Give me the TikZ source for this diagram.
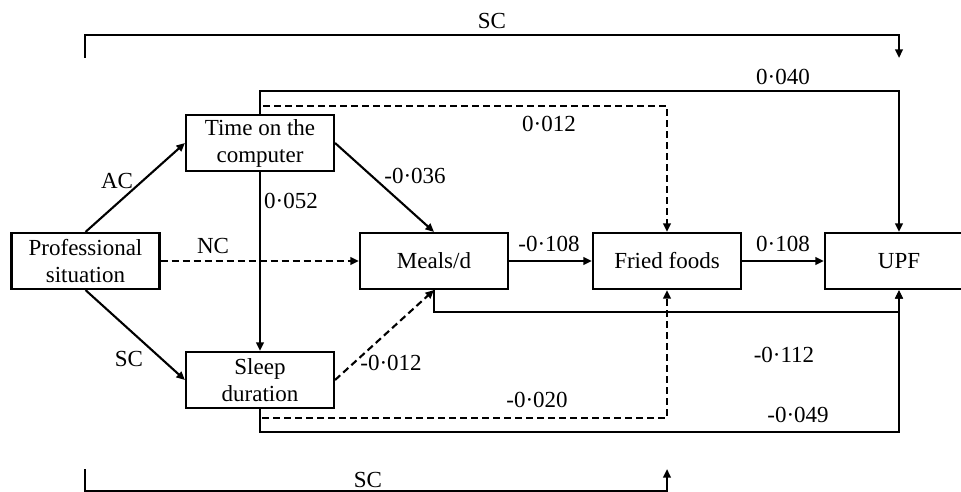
\documentclass[tikz,border=0pt]{standalone}
\usepackage{fontspec}
\setmainfont{Liberation Serif}
\usetikzlibrary{arrows.meta}
\begin{document}
\begin{tikzpicture}[x=1pt,y=-1pt,
  font=\fontsize{23}{27}\selectfont,
  box/.style={draw,line width=2.1pt,minimum width=148pt,minimum height=56pt,inner sep=0pt,align=center},
  conn/.style={line width=2.1pt,-{Triangle[length=8.5pt,width=7.5pt]}},
  dsh/.style={dash pattern=on 7pt off 4pt},
  lbl/.style={inner sep=0pt}]
\useasboundingbox (0,0) rectangle (961,492);
\clip (0,0) rectangle (961,492);
\fill[white] (0,0) rectangle (961,492);

\node[box] (prof) at (85.5,261) {Professional\\situation};
\node[box] (time) at (260,143) {Time on the\\computer};
\node[box] (sleep) at (260,380) {Sleep\\duration};
\node[box] (meals) at (434,261) {Meals/d};
\node[box] (fried) at (667,261) {Fried foods};
\node[box] (upf) at (899,261) {UPF};

% top SC bracket
\coordinate (scA) at (85,58);
\coordinate (scB) at (899,58);
\draw[conn] (scA) -- (85,35) -- (899,35) -- (scB);
\node[lbl] (sctop) at (492,21) {SC};

% bottom SC bracket
\coordinate (scC) at (85,469);
\coordinate (scD) at (667,469);
\draw[conn] (scC) -- (85,491) -- (667,491) -- (scD);
\node[lbl] (scbot) at (368,480) {SC};

% time -> UPF
\draw[conn] (time.north) -- (260,91) -| (upf.north);
\node[lbl] (l040) at (783,77) {0·040};
% time -> fried (dashed)
\draw[conn,dsh] (time.north) -- (260,106) -| (fried.north);
\node[lbl] (l012) at (549,124) {0·012};

% prof -> time / sleep
\draw[conn] (prof.north) -- (time.west);
\node[lbl] (lac) at (117,181) {AC};
\draw[conn] (prof.south) -- (sleep.west);
\node[lbl] (lsc) at (129,359) {SC};

% prof -> meals dashed
\draw[conn,dsh] (prof.east) -- (meals.west);
\node[lbl] (lnc) at (213,246) {NC};

% time -> sleep
\draw[conn] (time.south) -- (sleep.north);
\node[lbl] (l052) at (291,201) {0·052};

% time -> meals
\draw[conn] (time.east) -- (meals.north);
\node[lbl] (l036) at (415,176) {-0·036};

% sleep -> meals dashed
\draw[conn,dsh] (sleep.east) -- (meals.south);
\node[lbl] (l012b) at (391,363) {-0·012};

% meals -> fried -> upf
\draw[conn] (meals.east) -- (fried.west);
\node[lbl] (l108a) at (549,244) {-0·108};
\draw[conn] (fried.east) -- (upf.west);
\node[lbl] (l108b) at (783,244) {0·108};

% meals -> upf (below)
\draw[conn] (meals.south) -- (434,312) -| (upf.south);
\node[lbl] (l112) at (784,355) {-0·112};

% sleep -> fried dashed
\draw[conn,dsh] (sleep.south) -- (260,418) -| (fried.south);
\node[lbl] (l020) at (537,400) {-0·020};

% sleep -> upf
\draw[conn] (sleep.south) -- (260,432) -| (upf.south);
\node[lbl] (l049) at (798,415) {-0·049};
\end{tikzpicture}
\end{document}
